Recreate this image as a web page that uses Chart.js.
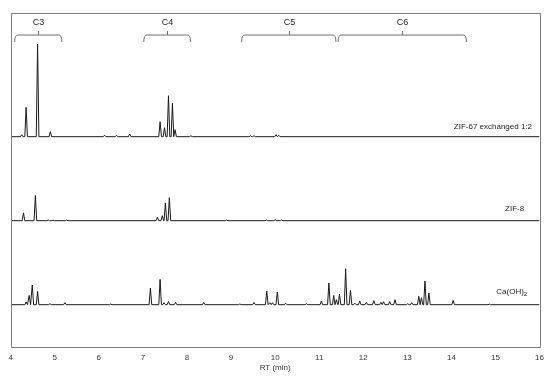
<!DOCTYPE html>
<html>
<head>
<meta charset="utf-8">
<script src="https://cdn.jsdelivr.net/npm/chart.js@4.4.1/dist/chart.umd.min.js"></script>
<style>
  html, body { margin: 0; padding: 0; background: #fff; }
  #wrap { width: 550px; height: 379px; }
</style>
</head>
<body>
<div id="wrap"><canvas id="chart"></canvas></div>
<script>
// Retention time range and tick labels (min)
const xTicks = [4, 5, 6, 7, 8, 9, 10, 11, 12, 13, 14, 15, 16];

// Trace names and vertical offsets (stacked chromatograms)
const traceNames = ['ZIF-67 exchanged 1:2', 'ZIF-8', 'Ca(OH)2'];
const traceOffsets = [210, 126, 42];

// ZIF-67 exchanged 1:2 peaks
const zif67RT = [4.25, 4.35, 4.61, 4.90, 6.13, 6.40, 6.70, 7.39, 7.49, 7.58, 7.67, 7.73, 8.09, 9.44, 9.52, 10.02, 10.08];
const zif67Height = [2, 29.4, 92.7, 5, 1.5, 1.5, 2.7, 15, 9, 41, 33.4, 7, 1, 1, 1, 2, 1.5];

// ZIF-8 peaks
const zif8RT = [4.29, 4.56, 4.85, 4.96, 5.27, 7.33, 7.44, 7.51, 7.60, 8.90, 9.80, 10.00, 10.15];
const zif8Height = [7.8, 25.2, 0.7, 0.6, 0.6, 3.5, 5, 17.8, 23, 0.6, 0.7, 1, 0.8];

// Ca(OH)2 peaks
const caRT = [4.35, 4.42, 4.49, 4.61, 4.89, 5.23, 6.27, 7.17, 7.39, 7.48, 7.58, 7.74, 8.38, 9.20, 9.52, 9.81, 9.88, 9.94,
  10.05, 10.24, 10.71, 11.05, 11.22, 11.33, 11.39, 11.46, 11.60, 11.71, 11.81, 11.92, 12.07, 12.24, 12.40, 12.46, 12.60,
  12.72, 13.01, 13.10, 13.26, 13.32, 13.40, 13.49, 14.04, 14.86];
const caHeight = [2.7, 9.3, 19.7, 13.3, 1, 2, 0.7, 16.7, 25.3, 2, 3.3, 2.3, 2.3, 0.7, 2.3, 13.7, 2, 2,
  12.7, 1.5, 1, 3.7, 21.7, 9.3, 5, 10.7, 36, 14.3, 1.5, 3.7, 2.3, 4, 2.3, 3, 3,
  5, 1, 2, 8.3, 7, 23.7, 11.7, 4.3, 0.6];

// Carbon-number brackets (RT range) and labels
const bracketLabels = ['C3', 'C4', 'C5', 'C6'];
const bracketStart = [4.09, 7.02, 9.24, 11.43];
const bracketEnd = [5.16, 8.08, 11.38, 14.34];

const peakHalfWidth = 0.03;

// build a stick-shaped chromatogram from a peak table
function buildTrace(rts, heights, offset) {
  const pts = [{ x: 4, y: offset }];
  rts.forEach((rt, i) => {
    pts.push({ x: rt - peakHalfWidth, y: offset });
    pts.push({ x: rt, y: offset + heights[i] });
    pts.push({ x: rt + peakHalfWidth, y: offset });
  });
  pts.push({ x: 16, y: offset });
  return pts.sort((a, b) => a.x - b.x);
}

const traceData = [
  buildTrace(zif67RT, zif67Height, traceOffsets[0]),
  buildTrace(zif8RT, zif8Height, traceOffsets[1]),
  buildTrace(caRT, caHeight, traceOffsets[2])
];

const FONT = '"Liberation Sans", Arial, sans-serif';

// Box around plot area, brackets, and trace names
const decorations = {
  id: 'decorations',
  afterDraw(chart) {
    const { ctx, chartArea: a, scales: { x, y } } = chart;
    ctx.save();
    ctx.strokeStyle = '#808080';
    ctx.lineWidth = 1;
    ctx.strokeRect(Math.round(a.left) + 0.5, Math.round(a.top) + 0.5,
      Math.round(a.right - a.left), Math.round(a.bottom - a.top));

    // brackets
    ctx.strokeStyle = '#707070';
    ctx.fillStyle = '#222';
    ctx.font = '9px ' + FONT;
    ctx.textAlign = 'center';
    ctx.textBaseline = 'middle';
    const yLine = y.getPixelForValue(311.7);
    const yEnd = y.getPixelForValue(304.7);
    const yTick = y.getPixelForValue(315.7);
    const yText = y.getPixelForValue(324);
    bracketLabels.forEach((lab, i) => {
      const x1 = x.getPixelForValue(bracketStart[i]);
      const x2 = x.getPixelForValue(bracketEnd[i]);
      const xc = Math.round((x1 + x2) / 2) + 0.5;
      ctx.beginPath();
      ctx.moveTo(x1, yEnd);
      ctx.quadraticCurveTo(x1, yLine, x1 + 3, yLine);
      ctx.lineTo(x2 - 3, yLine);
      ctx.quadraticCurveTo(x2, yLine, x2, yEnd);
      ctx.moveTo(xc, yLine);
      ctx.lineTo(xc, yTick);
      ctx.stroke();
      ctx.fillText(lab, xc, yText);
    });

    // trace names
    ctx.textAlign = 'right';
    ctx.font = '8px ' + FONT;
    ctx.fillText(traceNames[0], x.getPixelForValue(15.83), y.getPixelForValue(traceOffsets[0] + 9.5));
    ctx.fillText(traceNames[1], x.getPixelForValue(15.65), y.getPixelForValue(traceOffsets[1] + 11.5));
    // Ca(OH)2 with subscript
    const cx = x.getPixelForValue(15.72);
    const cy = y.getPixelForValue(traceOffsets[2] + 12.5);
    ctx.font = '6px ' + FONT;
    const subW = ctx.measureText('2').width;
    ctx.fillText('2', cx, cy + 2.5);
    ctx.font = '8px ' + FONT;
    ctx.fillText('Ca(OH)', cx - subW, cy);
    ctx.restore();
  }
};

const colors = ['#1a1a1a', '#1a1a1a', '#1a1a1a'];

new Chart(document.getElementById('chart'), {
  type: 'line',
  data: {
    datasets: traceData.map((d, i) => ({
      label: traceNames[i],
      data: d,
      borderColor: colors[i],
      borderWidth: 1,
      pointRadius: 0,
      tension: 0,
      fill: false
    }))
  },
  options: {
    responsive: true,
    maintainAspectRatio: false,
    animation: false,
    layout: { padding: { left: 10.7, right: 10, top: 12.5, bottom: 0 } },
    plugins: {
      legend: { display: false },
      tooltip: { enabled: false }
    },
    scales: {
      x: {
        type: 'linear',
        min: 4,
        max: 16,
        afterBuildTicks: (scale) => { scale.ticks = xTicks.map(v => ({ value: v })); },
        afterFit: (scale) => { scale.height = 32.3; },
        grid: { display: false, drawTicks: false },
        border: { display: false },
        ticks: {
          color: '#333',
          font: { family: FONT, size: 8 },
          padding: 6,
          maxRotation: 0
        },
        title: {
          display: true,
          text: 'RT (min)',
          color: '#333',
          font: { family: FONT, size: 8 },
          padding: { top: 1, bottom: 6 }
        }
      },
      y: {
        display: false,
        min: 0,
        max: 334.2
      }
    }
  },
  plugins: [decorations]
});
</script>
</body>
</html>
